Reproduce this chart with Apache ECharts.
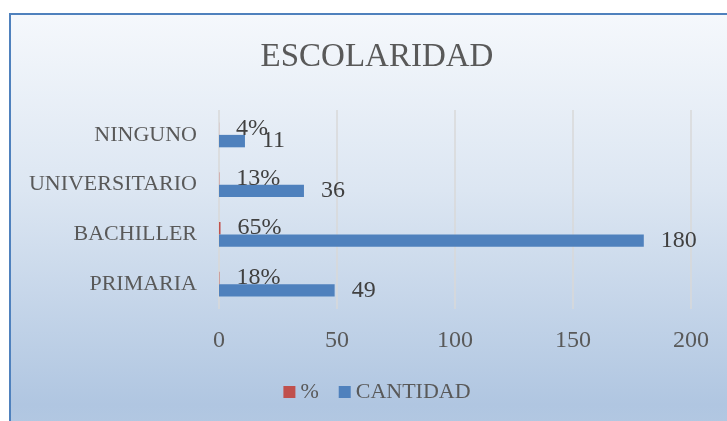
<!DOCTYPE html>
<html>
<head>
<meta charset="utf-8">
<script src="https://cdn.jsdelivr.net/npm/echarts@6/dist/echarts.min.js"></script>
<style>
    html, body { margin: 0; padding: 0; width: 727px; height: 421px; overflow: hidden; background: #fff; }
    #frame {
        position: absolute; left: 9px; top: 13px; width: 800px; height: 500px;
        border-top: 2px solid #4f81bd; border-left: 2px solid #4f81bd;
        background: linear-gradient(to bottom, #f5f8fc 0%, #dce6f2 35%, #b0c6e1 78%, #bccfe6 100%);
    }
    #main { position: absolute; left: 0; top: 0; width: 754px; height: 421px; }
</style>
</head>
<body>
<div id="frame"></div>
<div id="main"></div>
<script>
// datos
const categorias = ['PRIMARIA', 'BACHILLER', 'UNIVERSITARIO', 'NINGUNO']
const porcentaje = [0.18, 0.65, 0.13, 0.04]
const cantidad = [49, 180, 36, 11]
const ejeMin = 0
const ejeMax = 200
const ejeIntervalo = 50

const fuente = 'Liberation Serif'
const chart = echarts.init(document.getElementById('main'), null, { renderer: 'canvas' })

chart.setOption({
    backgroundColor: 'transparent',
    animation: false,
    title: {
        text: 'ESCOLARIDAD',
        left: 'center',
        top: 36,
        textStyle: {
            color: '#595959',
            fontFamily: fuente,
            fontWeight: 'normal',
            fontSize: 33
        }
    },
    legend: {
        data: ['%', 'CANTIDAD'],
        left: 'center',
        top: 376,
        icon: 'rect',
        itemWidth: 12,
        itemHeight: 12,
        itemGap: 20,
        textStyle: { color: '#595959', fontFamily: fuente, fontSize: 22 }
    },
    grid: {
        left: 219,
        right: 63,
        top: 110,
        height: 199,
        containLabel: false
    },
    xAxis: {
        type: 'value',
        min: ejeMin,
        max: ejeMax,
        interval: ejeIntervalo,
        axisLine: { show: false },
        axisTick: { show: false },
        // etiquetas del eje
        axisLabel: { color: '#595959', fontFamily: fuente, fontSize: 24, margin: 20 },
        splitLine: { lineStyle: { color: '#d9d9d9', width: 1.5 } }
    },
    yAxis: {
        type: 'category',
        data: categorias,
        axisLine: { show: false },
        axisTick: { show: false },
        axisLabel: { color: '#595959', fontFamily: fuente, fontSize: 22, margin: 22 }
    },
    series: [
        {
            name: '%',
            type: 'bar',
            data: porcentaje,
            barGap: '0%',
            barCategoryGap: '50%',
            itemStyle: { color: '#c0504d' },
            label: {
                show: true,
                position: 'right',
                distance: 17,
                color: '#404040',
                fontFamily: fuente,
                fontSize: 24,
                formatter: p => Math.round(p.value * 100) + '%'
            }
        },
        {
            name: 'CANTIDAD',
            type: 'bar',
            data: cantidad,
            barGap: '0%',
            barCategoryGap: '50%',
            itemStyle: { color: '#4f81bd' },
            label: {
                show: true,
                position: 'right',
                distance: 17,
                color: '#404040',
                fontFamily: fuente,
                fontSize: 24
            }
        }
    ]
})
</script>
</body>
</html>
